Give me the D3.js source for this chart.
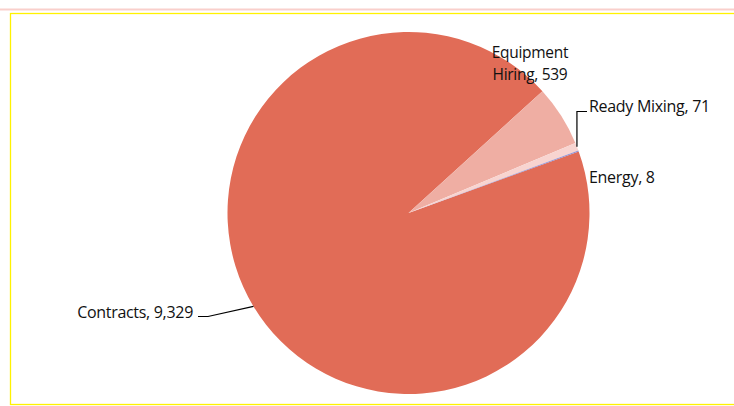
<!DOCTYPE html>
<html><head><meta charset="utf-8">
<script src="https://cdn.jsdelivr.net/npm/d3@7"></script>
<style>body{margin:0;background:#fff}svg{display:block}</style>
</head><body>
<script>
const categories = ["Contracts", "Equipment Hiring", "Ready Mixing", "Energy"];
const values = [9329, 539, 71, 8];
const valueLabels = ["9,329", "539", "71", "8"];
const colors = ["#E16C57", "#EFAEA3", "#F8D4D0", "#8E8FD3"];

const W = 734, H = 406;
const svg = d3.select("body").append("svg").attr("width", W).attr("height", H);
svg.append("rect").attr("x",0).attr("y",8.5).attr("width",W).attr("height",2).attr("fill","#F9CFCB");
svg.append("rect").attr("x",10.5).attr("y",13.5).attr("width",W+10).attr("height",391).attr("fill","none").attr("stroke","#FFF200").attr("stroke-width",1.3);

const cx = 408.5, cy = 213, r = 181;
const data = categories.map((c,i)=>({c, v: values[i], lab: valueLabels[i], col: colors[i]}));
const pie = d3.pie().value(d=>d.v).sort(null).startAngle(70.1*Math.PI/180).endAngle(70.1*Math.PI/180 + 2*Math.PI);
const arcs = pie(data);
const arc = d3.arc().innerRadius(0).outerRadius(r);
const g = svg.append("g").attr("transform", `translate(${cx},${cy})`);
g.selectAll("path").data(arcs).join("path").attr("d", arc).attr("fill", d=>d.data.col);

const font = "'Open Sans', sans-serif";
const fs = 16;
function txt(x, y, s, anchor, size){
  return svg.append("text").attr("x",x).attr("y",y).attr("text-anchor",anchor||"start")
    .attr("font-family",font).attr("font-size",size||fs).attr("letter-spacing",-0.3).attr("fill","#111").text(s);
}
const pt = (a, rr) => [cx + rr*Math.sin(a), cy - rr*Math.cos(a)];
// Equipment Hiring (two lines)
txt(530, 58, "Equipment", "middle", 15.5);
txt(530, 79.5, "Hiring, " + data[1].lab, "middle", 15.5);
// Ready Mixing
const rmMid = (arcs[2].startAngle + arcs[2].endAngle)/2;
const p0 = pt(rmMid, r);
svg.append("path").attr("d", `M${p0[0]},${p0[1]} L${p0[0]},111.5 L587,111.5`).attr("fill","none").attr("stroke","#000").attr("stroke-width",1.2);
txt(589, 112, data[2].c + ", " + data[2].lab);
// Energy
txt(589, 183, data[3].c + ", " + data[3].lab);
// Contracts
const ctMid = (arcs[0].startAngle + arcs[0].endAngle)/2;
const pc = pt(ctMid, r);
svg.append("path").attr("d", `M${pc[0]},${pc[1]} L208,316.5 L198,316.5`).attr("fill","none").attr("stroke","#000").attr("stroke-width",1.2);
txt(193, 318, data[0].c + ", " + data[0].lab, "end");
</script>
</body></html>
